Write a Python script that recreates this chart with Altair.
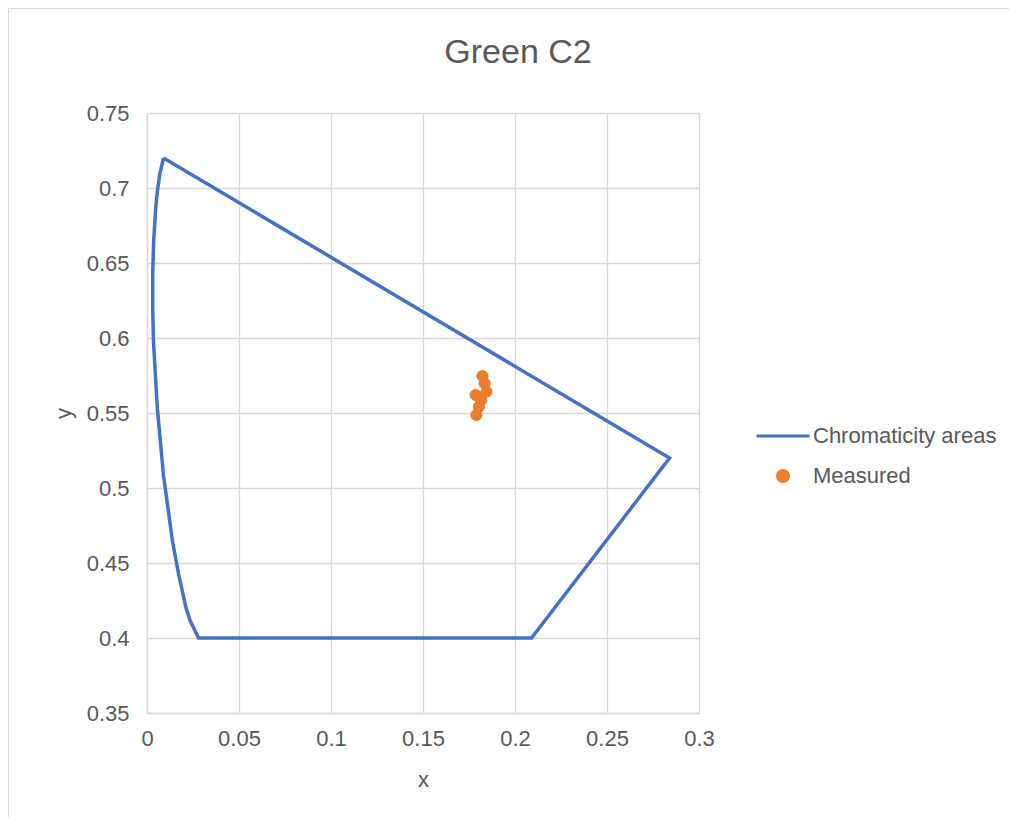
import altair as alt
import pandas as pd

# Chromaticity area boundary (closed polygon, in drawing order)
boundary_x = [0.009, 0.284, 0.209, 0.028, 0.0233, 0.0211, 0.0171, 0.0138, 0.0089,
              0.0056, 0.0035, 0.0031, 0.0031, 0.0036, 0.0047, 0.0056, 0.0069, 0.009]
boundary_y = [0.720, 0.520, 0.400, 0.400, 0.412, 0.4206, 0.443, 0.465, 0.509,
              0.5535, 0.598, 0.620, 0.642, 0.664, 0.686, 0.6975, 0.709, 0.720]

# Measured points
measured_x = [0.1823, 0.1835, 0.1845, 0.1786, 0.1817, 0.1804, 0.1790]
measured_y = [0.5746, 0.5698, 0.5642, 0.5620, 0.5587, 0.5542, 0.5487]

series_names = ["Chromaticity areas", "Measured"]
series_colors = ["#4472C4", "#ED7D31"]
x_ticks = [0, 0.05, 0.1, 0.15, 0.2, 0.25, 0.3]
y_ticks = [0.35, 0.4, 0.45, 0.5, 0.55, 0.6, 0.65, 0.7, 0.75]

boundary = pd.DataFrame({"x": boundary_x, "y": boundary_y,
                         "order": list(range(len(boundary_x)))})
measured = pd.DataFrame({"x": measured_x, "y": measured_y,
                         "series": ["Measured"] * len(measured_x)})

TXT = "#595959"
FONT = "Liberation Sans"

xscale = alt.Scale(domain=[0, 0.3], nice=False, zero=False)
yscale = alt.Scale(domain=[0.35, 0.75], nice=False, zero=False)

xaxis = alt.Axis(values=x_ticks, format="~f", ticks=False, labelPadding=15,
                 labelFlush=False, title="x", titleX=276, titleY=66,
                 titleBaseline="middle", titleAlign="center")
yaxis = alt.Axis(values=y_ticks, format="~f", ticks=False, labelPadding=18,
                 labelFlush=False, title="y", titleX=-84, titleY=300,
                 titleBaseline="middle", titleAlign="center", titleAngle=-90)

border = alt.Chart(pd.DataFrame({"a": [0]})).mark_rect(
    fill=None, stroke="#d9d9d9", strokeWidth=1
).encode(x=alt.value(-138.5), x2=alt.value(2000),
         y=alt.value(-104.5), y2=alt.value(2000))

line = alt.Chart(boundary).mark_line(strokeWidth=3.5, color="#4472C4").encode(
    x=alt.X("x:Q", scale=xscale, axis=xaxis),
    y=alt.Y("y:Q", scale=yscale, axis=yaxis),
    order="order:Q",
)

legend = alt.Legend(title=None, orient="none", legendX=608, legendY=295,
                    labelFontSize=22, labelColor=TXT, labelFont=FONT,
                    labelLimit=400, rowPadding=17, padding=0, labelOffset=2,
                    symbolStrokeWidth=3, symbolOpacity=1)

points = alt.Chart(measured).mark_point(filled=True, opacity=1, strokeWidth=1).encode(
    x=alt.X("x:Q", scale=xscale, axis=xaxis),
    y=alt.Y("y:Q", scale=yscale, axis=yaxis),
    color=alt.Color("series:N",
                    scale=alt.Scale(domain=series_names, range=series_colors),
                    legend=legend),
    stroke=alt.Stroke("series:N",
                      scale=alt.Scale(domain=series_names, range=series_colors),
                      legend=legend),
    shape=alt.Shape("series:N",
                    scale=alt.Scale(domain=series_names, range=["stroke", "circle"]),
                    legend=legend),
    size=alt.Size("series:N",
                  scale=alt.Scale(type="ordinal", domain=series_names, range=[2809, 125]),
                  legend=legend),
)

chart = alt.layer(border, line, points).properties(
    width=552, height=600,
    autosize=alt.AutoSizeParams(type="none"),
    padding={"left": 139, "top": 105, "right": 310, "bottom": 104},
    title=alt.TitleParams("Green C2", fontSize=34, color=TXT, font=FONT,
                          fontWeight="normal", anchor="middle", frame="group",
                          baseline="alphabetic", offset=-89, dx=95),
).configure_axis(
    gridColor="#d9d9d9", gridWidth=1.3, domainColor="#d9d9d9", domainWidth=1.5,
    labelFontSize=22, labelColor=TXT, labelFont=FONT,
    titleFontSize=22, titleColor=TXT, titleFont=FONT, titleFontWeight="normal",
).configure_view(stroke=None)

chart.save("out.html", embed_options={"renderer": "svg", "actions": False})
